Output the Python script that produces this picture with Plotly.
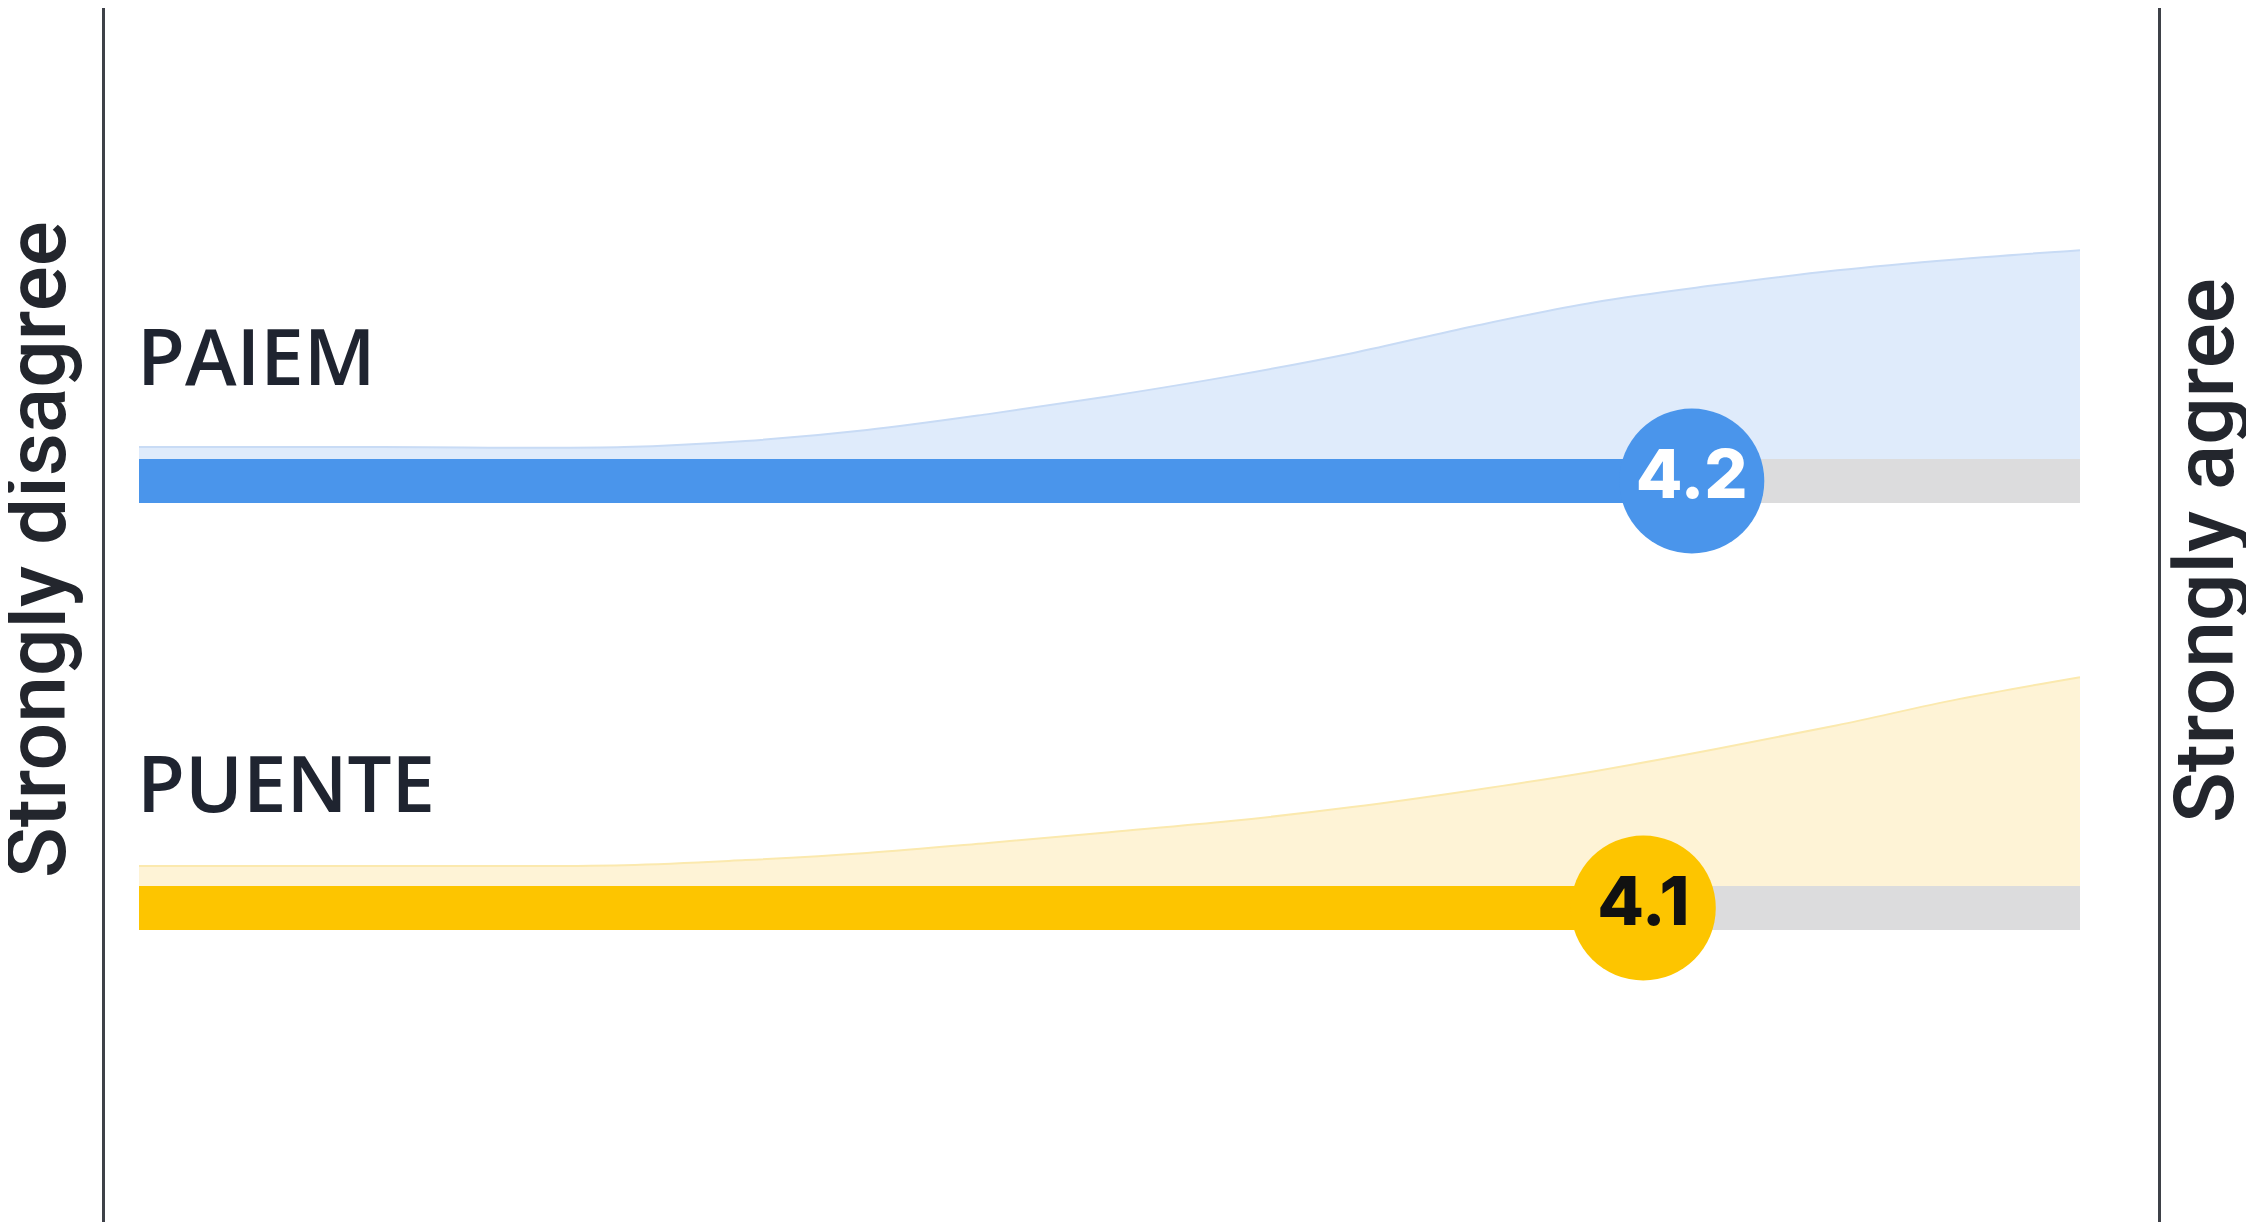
import plotly.graph_objects as go

# ---------------- data ----------------
groups = ["PAIEM", "PUENTE"]
means = [4.2, 4.1]
scale_min, scale_max = 1, 5
scale_labels = ["Strongly disagree", "Strongly agree"]

# response-density profile (relative, 0-100) along the 1-5 scale
density_x = [1.0, 1.5, 2.0, 2.25, 2.5, 2.75, 3.0, 3.25, 3.5, 3.75, 4.0, 4.25, 4.5, 4.75, 5.0]
density_paiem = [5.7, 5.7, 5.7, 8.6, 13.9, 21.5, 30.1, 39.7, 50.7, 63.6, 75.1, 83.3, 90.4, 95.7, 100.0]
density_puente = [9.6, 9.6, 10.0, 12.4, 15.8, 20.6, 25.8, 31.1, 37.8, 45.9, 55.0, 65.6, 77.0, 89.5, 100.0]

# ---------------- style ----------------
OFF = 8                      # page body margin
W, H = 2254 - 2 * OFF, 1230 - 2 * OFF
row_pos = {"PAIEM": 1.0, "PUENTE": 0.0}
bar_w = 0.103
dens_k = 0.00489
main_col = {"PAIEM": "#4A95EB", "PUENTE": "#FDC500"}
area_fill = {"PAIEM": "rgba(210,227,249,0.7)", "PUENTE": "rgba(253,238,196,0.7)"}
area_line = {"PAIEM": "#C8DBF5", "PUENTE": "#FBE9AE"}
txt_col = {"PAIEM": "white", "PUENTE": "#111111"}
densities = {"PAIEM": density_paiem, "PUENTE": density_puente}


def px_x(sx):
    return (sx - OFF) / W


def px_y(sy):
    return 1 - (sy - OFF) / H


fig = go.Figure()

# bars: grey track + coloured mean bar
for g, m in zip(groups, means):
    y = row_pos[g]
    fig.add_trace(go.Bar(y=[y], x=[scale_max - scale_min], base=[scale_min], orientation="h",
                         width=bar_w, marker=dict(color="#DCDCDD", line=dict(width=0)),
                         hoverinfo="skip"))
    fig.add_trace(go.Bar(y=[y], x=[m - scale_min], base=[scale_min], orientation="h",
                         width=bar_w, marker=dict(color=main_col[g], line=dict(width=0)),
                         hoverinfo="skip"))

# density areas
for g in groups:
    y0 = row_pos[g] + bar_w / 2
    top = [y0 + d * dens_k for d in densities[g]]
    fig.add_trace(go.Scatter(x=density_x, y=[y0] * len(density_x), mode="lines",
                             line=dict(width=0), hoverinfo="skip"))
    fig.add_trace(go.Scatter(x=density_x, y=top, mode="lines", fill="tonexty",
                             fillcolor=area_fill[g], line=dict(color=area_line[g], width=2, shape="spline"),
                             hoverinfo="skip"))

# mean circles
for g, m in zip(groups, means):
    fig.add_trace(go.Scatter(x=[m], y=[row_pos[g]], mode="markers+text",
                             marker=dict(size=145, color=main_col[g], line=dict(width=0)),
                             text=[f"{m:.1f}"], textposition="middle center",
                             textfont=dict(family="Inter", size=68, color=txt_col[g], weight=800),
                             hoverinfo="skip"))

# group labels
for g in groups:
    fig.add_annotation(x=scale_min, y=row_pos[g] + 0.295, xref="x", yref="y",
                       text=g, showarrow=False, xanchor="left", yanchor="middle", xshift=-4,
                       font=dict(family="Open Sans", size=78, color="#1F2430", weight=600))

# end labels and lines
fig.add_annotation(x=px_x(36), y=px_y(550), xref="paper", yref="paper", text=scale_labels[0],
                   showarrow=False, textangle=-90, xanchor="center", yanchor="middle",
                   font=dict(family="Roboto", size=84, color="#23262D", weight=500))
fig.add_annotation(x=px_x(2204), y=px_y(551), xref="paper", yref="paper", text=scale_labels[1],
                   showarrow=False, textangle=-90, xanchor="center", yanchor="middle",
                   font=dict(family="Roboto", size=84, color="#23262D", weight=500))
for sx in (103.5, 2159.5):
    fig.add_shape(type="line", xref="paper", yref="paper", x0=px_x(sx), x1=px_x(sx), y0=0, y1=1,
                  line=dict(color="#3E4148", width=3))

# axes: value 1 at screen x 139, value 5 at screen x 2080; rows 1/0 at screen y 481/908
ux = 4 / 1941
uy = 1 / 427
fig.update_layout(width=W, height=H, margin=dict(l=0, r=0, t=0, b=0),
                  paper_bgcolor="white", plot_bgcolor="white", showlegend=False,
                  barmode="overlay",
                  xaxis=dict(range=[1 - (139 - OFF) * ux, 5 + (OFF + W - 2080) * ux],
                             visible=False, fixedrange=True),
                  yaxis=dict(range=[0 - (OFF + H - 908) * uy, 1 + (481 - OFF) * uy],
                             visible=False, fixedrange=True))

fig.write_html("out.html")
